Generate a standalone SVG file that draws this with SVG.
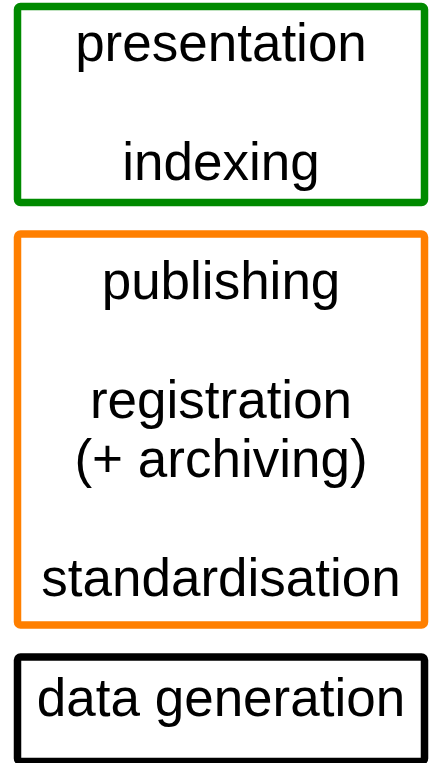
<svg xmlns="http://www.w3.org/2000/svg" width="433" height="763" viewBox="0 0 433 763">
<style>
.box{fill:#fff;stroke-width:7.5;stroke-linejoin:round}
.t{font-family:"Liberation Sans",Arial,sans-serif;font-size:53px;fill:#000;text-anchor:middle}
</style>
<rect width="433" height="763" fill="#fff"/>
<g id="top">
<rect class="box" x="17.5" y="6.5" width="407" height="196" rx="3" stroke="#008a00"/>
<text class="t" x="221" y="61">presentation</text>
<text class="t" x="221" y="180">indexing</text>
</g>
<g id="middle">
<rect class="box" x="17.5" y="234" width="407" height="391" rx="3" stroke="#ff7f00"/>
<text class="t" x="221" y="299">publishing</text>
<text class="t" x="221" y="418">registration</text>
<text class="t" x="221" y="477">(+ archiving)</text>
<text class="t" x="221" y="596">standardisation</text>
</g>
<g id="bottom">
<rect class="box" x="17.5" y="657" width="407" height="104.5" rx="3" stroke="#000"/>
<text class="t" x="221" y="716">data generation</text>
</g>
<g id="connectors"/>
</svg>
